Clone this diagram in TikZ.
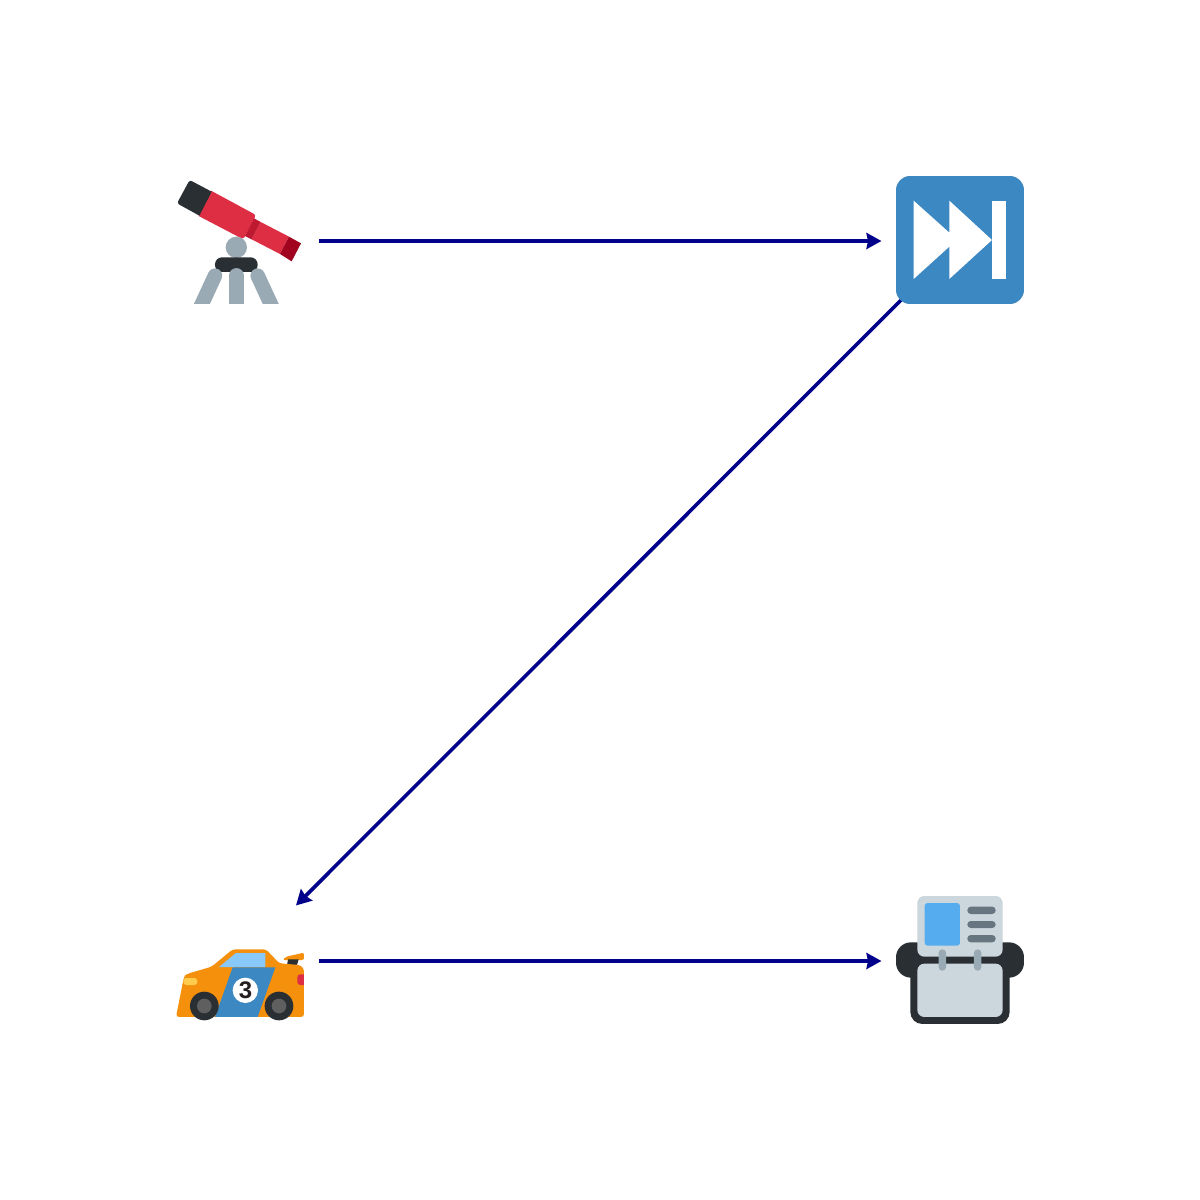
\documentclass[tikz,border=0pt]{standalone}
\usepackage{fontspec}
\setmainfont{Liberation Sans}
\usetikzlibrary{arrows.meta}
\definecolor{ink}{HTML}{292F33}
\definecolor{steel}{HTML}{99AAB5}
\definecolor{slate}{HTML}{66757F}
\definecolor{hub}{HTML}{5F5F60}
\definecolor{pale}{HTML}{CCD6DD}
\definecolor{sky}{HTML}{55ACEE}
\definecolor{lightsky}{HTML}{88C9F9}
\definecolor{azure}{HTML}{3B88C3}
\definecolor{tomato}{HTML}{DD2E44}
\definecolor{wine}{HTML}{BE1931}
\definecolor{maroon}{HTML}{A0041E}
\definecolor{amber}{HTML}{F4900C}
\definecolor{lemon}{HTML}{FFCC4D}
\definecolor{numeral}{HTML}{231F20}
\definecolor{linkblue}{HTML}{00008B}
\tikzset{
  iconslot/.style={circle,minimum size=157pt,inner sep=0pt,outer sep=0pt},
  link/.style={draw=linkblue,line width=3.6pt,-{Stealth[length=15pt,width=16pt,inset=1.5pt]}},
  zoomed/.style={shift={(#1)},x=0.3333pt,y=-0.3333pt}
}
\begin{document}
\begin{tikzpicture}[x=1pt,y=-1pt]
\useasboundingbox[fill=white] (0,0) rectangle (1200,1200);
\node[iconslot] (scope) at (240.5,241) {};
\node[iconslot] (skip) at (960,241) {};
\node[iconslot] (car) at (240.5,961) {};
\node[iconslot] (cards) at (960,961) {};
\draw[link] (scope) -- (skip);
\draw[link] (skip) -- (car);
\draw[link] (car) -- (cards);
% telescope
\begin{scope}[zoomed={160,160}]
\fill[tomato] (153,92) [rounded corners=2.5pt] -- (288,165) -- (250,238) [sharp corners] -- (116,168) -- cycle;
\fill[ink] (155,95) [rounded corners=2.5pt] -- (89,60) -- (51,130) [sharp corners] -- (118,167) -- cycle;
\fill[tomato] (302,186) -- (387,230) -- (360,282) -- (275,238) -- cycle;
\fill[wine] (282,175) -- (302,186) -- (275,238) -- (255,228) -- cycle;
\fill[maroon] (387,230) -- (423,250) -- (395,304) -- (360,282) -- cycle;
\fill[steel] (229,262) circle[radius=32];
\fill[ink,rounded corners=7pt] (165,292) rectangle (293,336);
\begin{scope}
\clip (90,300) rectangle (370,431);
\draw[steel,line width=14.5pt,line cap=round] (165,347) -- (115,455);
\draw[steel,line width=14.5pt,line cap=round] (229,346) -- (229,455);
\draw[steel,line width=14.5pt,line cap=round] (293,347) -- (343,455);
\end{scope}
\end{scope}
% skip forward button
\begin{scope}[zoomed={860,160}]
\fill[azure,rounded corners=14pt] (108,48) rectangle (492,432);
\fill[white] (161,122) -- (268,218) -- (268,122) -- (396,240) -- (268,357) -- (268,260) -- (161,357) -- cycle;
\fill[white] (396,122) rectangle (439,357);
\end{scope}
% race car
\begin{scope}[zoomed={160,880}]
\fill[amber,rounded corners=2pt] (368,240) -- (378,230) -- (432,218) -- (432,240) -- cycle;
\fill[ink] (384,238) -- (416,238) -- (410,258) -- (381,256) -- cycle;
\fill[amber,rounded corners=3pt] (48,411) -- (72,290) -- (80,282) -- (155,260) -- (218,208) -- (318,208) -- (358,250) -- (420,255) -- (432,266) -- (432,411) -- cycle;
\fill[lightsky] (177,261) -- (228,219) -- (316,219) -- (316,261) -- cycle;
\fill[azure] (218,262) -- (346,262) -- (293,411) -- (165,411) -- cycle;
\fill[lemon,rounded corners=3pt] (70,294) rectangle (112,315);
\fill[tomato,rounded corners=3pt] (412,283) rectangle (440,315);
\fill[white] (432,275) rectangle (445,325);
\fill[white] (256,331) circle[radius=38];
\node[inner sep=0pt,text=numeral] (num) at (257,331) {\fontsize{24pt}{24pt}\selectfont\bfseries 3};
\fill[ink] (133,378) circle[radius=43];
\fill[ink] (357,378) circle[radius=43];
\fill[hub] (133,378) circle[radius=22];
\fill[hub] (357,378) circle[radius=22];
\end{scope}
% card file
\begin{scope}[zoomed={860,880}]
\fill[ink,rounded corners=15pt] (108,187) rectangle (492,293);
\fill[ink,rounded corners=12pt] (151,230) rectangle (449,432);
\fill[pale,rounded corners=7pt] (172,251) rectangle (428,411);
\fill[pale,rounded corners=7pt] (172,48) rectangle (428,230);
\fill[sky,rounded corners=3pt] (194,69) rectangle (300,197);
\fill[slate,rounded corners=3.5pt] (322,80) rectangle (407,102);
\fill[slate,rounded corners=3.5pt] (322,123) rectangle (407,144);
\fill[slate,rounded corners=3.5pt] (322,165) rectangle (407,187);
\fill[steel,rounded corners=3.5pt] (236,208) rectangle (258,272);
\fill[steel,rounded corners=3.5pt] (342,208) rectangle (364,272);
\end{scope}
\end{tikzpicture}
\end{document}
